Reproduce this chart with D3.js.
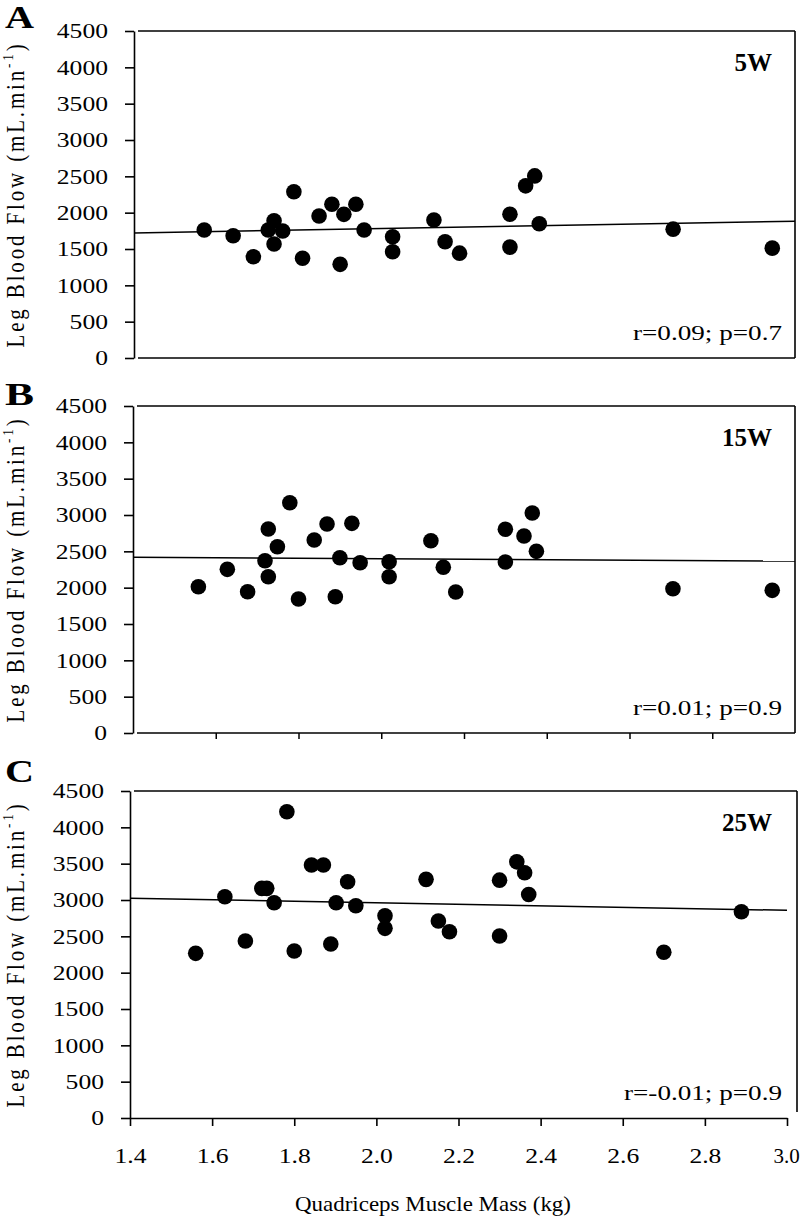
<!DOCTYPE html>
<html><head><meta charset="utf-8">
<script src="https://cdn.jsdelivr.net/npm/d3@7"></script>
<style>body{margin:0;background:#fff} svg{display:block}</style>
</head><body>
<svg id="chart" width="802" height="1221"></svg>
<script>
// ---------- data ----------
const xTicks = [1.4, 1.6, 1.8, 2.0, 2.2, 2.4, 2.6, 2.8, 3.0];
const xTickLabels = ["1.4", "1.6", "1.8", "2.0", "2.2", "2.4", "2.6", "2.8", "3.0"];
const yTicks = [0, 500, 1000, 1500, 2000, 2500, 3000, 3500, 4000, 4500];

// Panel A (5W)
const massA = [1.570,1.640,1.689,1.739,1.725,1.760,1.739,1.787,1.808,1.848,1.879,1.908,1.937,1.899,1.957,2.026,2.026,2.126,2.153,2.188,2.310,2.310,2.348,2.370,2.381,2.705,2.945];
const flowA = [1761,1683,1394,1889,1761,1748,1569,2288,1372,1954,2115,1977,2115,1289,1761,1669,1463,1899,1600,1443,1526,1979,2369,2506,1847,1773,1512];
const trendA = [[1.4, 1720], [3.0, 1883]];

// Panel B (15W)
const massB = [1.558,1.628,1.677,1.719,1.727,1.727,1.749,1.779,1.800,1.838,1.869,1.889,1.900,1.929,1.949,2.019,2.019,2.120,2.150,2.180,2.300,2.300,2.345,2.365,2.375,2.705,2.945];
const flowB = [2013,2252,1944,2371,2807,2151,2563,3169,1844,2656,2876,1876,2412,2885,2343,2357,2151,2646,2280,1940,2353,2803,2711,3027,2500,1986,1963];
const trendB = [[1.4, 2419], [3.0, 2366]];

// Panel C (25W)
const massC = [1.560,1.631,1.681,1.721,1.733,1.751,1.782,1.800,1.842,1.871,1.889,1.902,1.930,1.950,2.021,2.021,2.121,2.151,2.178,2.300,2.300,2.342,2.361,2.371,2.700,2.889];
const flowC = [2266,3045,2435,3160,3160,2963,4215,2298,3481,3481,2394,2963,3252,2921,2784,2610,3284,2711,2563,3273,2504,3525,3374,3076,2280,2838];
const trendC = [[1.4, 3025], [3.0, 2858]];

const panelLetters = ["A", "B", "C"];
const powerLabels = ["5W", "15W", "25W"];
const statLabels = ["r=0.09; p=0.7", "r=0.01; p=0.9", "r=-0.01; p=0.9"];
const yTitle = "Leg Blood Flow (mL.min";
const yTitleSup = "-1";
const xTitle = "Quadriceps Muscle Mass (kg)";

// ---------- layout ----------
const FONT = '"Liberation Serif","Times New Roman",Times,serif';
const SX = 1.22;
const svg = d3.select('#chart');

const panels = [
  {mass: massA, flow: flowA, trend: trendA, left: 134, xEnd: 795, frameRight: 795, top: 31, bottom: 358, mode: 'none', letterY: 28},
  {mass: massB, flow: flowB, trend: trendB, left: 133, xEnd: 795, frameRight: 795, top: 406, bottom: 733, mode: 'minor', letterY: 405},
  {mass: massC, flow: flowC, trend: trendC, left: 130, xEnd: 787, frameRight: 797, top: 791, bottom: 1118, mode: 'labels', letterY: 782}
];

function fit(sel, w) {
  sel.each(function() { this.setAttribute('textLength', w); this.setAttribute('lengthAdjust', 'spacingAndGlyphs'); });
}

panels.forEach((p, i) => {
  const x = d3.scaleLinear().domain([1.4, 3.0]).range([p.left, p.xEnd]);
  const y = d3.scaleLinear().domain([0, 4500]).range([p.bottom, p.top]);
  const g = svg.append('g');

  // y axis
  const ya = g.append('g').attr('transform', `translate(${p.left},0)`)
    .call(d3.axisLeft(y).tickValues(yTicks).tickSize(9).tickSizeOuter(0).tickPadding(17).tickFormat(d3.format('d')));
  ya.selectAll('path,line').attr('stroke', '#000').attr('stroke-width', 1.6);
  ya.selectAll('text').attr('font-family', FONT).attr('font-size', 21).attr('fill', '#000')
    .attr('x', -26 / SX).attr('transform', `scale(${SX},1)`);

  // frame
  const frame = g.append('g').attr('stroke', '#000').attr('stroke-width', 1.6).attr('fill', 'none');
  frame.append('line').attr('x1', p.left + 4).attr('x2', p.frameRight).attr('y1', p.top).attr('y2', p.top);
  frame.append('line').attr('x1', p.frameRight).attr('x2', p.frameRight).attr('y1', p.top)
    .attr('y2', p.mode === 'labels' ? p.bottom - 6 : p.bottom);

  if (p.mode === 'labels') {
    const xa = g.append('g').attr('transform', `translate(0,${p.bottom})`)
      .call(d3.axisBottom(x).tickValues(xTicks).tickSize(8).tickSizeOuter(0).tickPadding(22)
        .tickFormat((d, k) => xTickLabels[k]));
    xa.selectAll('path,line').attr('stroke', '#000').attr('stroke-width', 1.6);
    const n = xTicks.length;
    xa.selectAll('text').attr('font-family', FONT).attr('font-size', 21).attr('fill', '#000')
      .attr('x', 0).attr('y', 45).attr('dy', null)
      .attr('transform', (d, k) => k === n - 1 ? 'translate(-1,0) scale(1.0,1)' : `scale(${SX},1)`);
  } else {
    frame.append('line').attr('x1', p.left + 4).attr('x2', p.frameRight).attr('y1', p.bottom).attr('y2', p.bottom);
    if (p.mode === 'minor') {
      const xa = g.append('g').attr('transform', `translate(0,${p.bottom})`)
        .call(d3.axisBottom(x).tickValues(xTicks.slice(1, -1)).tickSize(6).tickSizeOuter(0).tickFormat(''));
      xa.select('.domain').remove();
      xa.selectAll('line').attr('stroke', '#000').attr('stroke-width', 1.5);
    }
  }

  // trend line
  g.append('path').datum(p.trend)
    .attr('d', d3.line().x(d => x(d[0])).y(d => y(d[1])))
    .attr('stroke', '#000').attr('stroke-width', 1.5).attr('fill', 'none');

  // points
  g.append('g').selectAll('circle').data(d3.zip(p.mass, p.flow)).join('circle')
    .attr('cx', d => x(d[0])).attr('cy', d => y(d[1])).attr('r', 7.8).attr('fill', '#000');

  // power label
  g.append('text').attr('x', 772).attr('y', p.top + 40).attr('text-anchor', 'end')
    .attr('font-family', FONT).attr('font-weight', 'bold').attr('font-size', 25).text(powerLabels[i]);

  // statistic label
  const st = g.append('text').attr('x', 782).attr('y', p.bottom - 18).attr('text-anchor', 'end')
    .attr('font-family', FONT).attr('font-size', 22).text(statLabels[i]);
  fit(st, i === 2 ? 158 : 149);

  // panel letter
  const lt = g.append('text').attr('x', 5).attr('y', p.letterY)
    .attr('font-family', FONT).attr('font-weight', 'bold').attr('font-size', 32).text(panelLetters[i]);
  fit(lt, 29);

  // y title
  const cy = (p.top + p.bottom) / 2;
  const yt = g.append('text').attr('transform', `translate(24,${cy}) scale(1.2,1) rotate(-90)`)
    .attr('text-anchor', 'middle').attr('font-family', FONT).attr('font-size', 21).attr('fill', '#000');
  yt.append('tspan').text(yTitle);
  yt.append('tspan').attr('font-size', 13).attr('dy', -9).text(yTitleSup);
  yt.append('tspan').attr('dy', 9).text(')');
  const natural = yt.node().getComputedTextLength();
  const nChars = (yTitle + yTitleSup + ')').length;
  yt.attr('letter-spacing', ((306 - natural) / nChars).toFixed(2));
});

// x title
const xt = svg.append('text').attr('x', 433).attr('y', 1211).attr('text-anchor', 'middle')
  .attr('font-family', FONT).attr('font-size', 22).text(xTitle);
fit(xt, 276);
</script>
</body></html>
